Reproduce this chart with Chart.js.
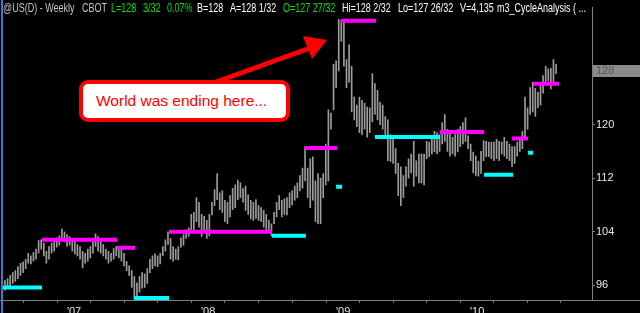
<!DOCTYPE html>
<html>
<head>
<meta charset="utf-8">
<script src="https://cdn.jsdelivr.net/npm/chart.js@4.4.1/dist/chart.umd.min.js"></script>
<style>
  html, body { margin: 0; padding: 0; background: #000; }
  #wrap { position: relative; width: 640px; height: 313px; overflow: hidden; background: #000; }
  #bondChart { position: absolute; left: 0; top: 0; }
  .hdr { position: absolute; top: 1px; font: 12px "Liberation Sans", Arial, sans-serif; line-height: 14px; white-space: nowrap; color: #fff;
         transform: scaleX(0.75); transform-origin: 0 0; }
  .gry { color: #c4c4c4; }
  .grn { color: #00e400; }
  #edge { position: absolute; left: 1px; top: 0; width: 2px; height: 313px; background: #3c78d8; }
  #note { position: absolute; left: 79px; top: 80px; width: 211px; height: 42px; box-sizing: border-box;
          border: 4px solid #ff0000; border-radius: 9px; background: #fff; color: #ff0000;
          font: 15.5px "Liberation Sans", Arial, sans-serif; line-height: 34px; padding-left: 13px; white-space: nowrap; }
</style>
</head>
<body>
<div id="wrap">
  <canvas id="bondChart" width="640" height="313"></canvas>
  <div id="edge"></div>
  <span class="hdr gry" style="left:3px">@US(D) - Weekly</span>
  <span class="hdr gry" style="left:82px">CBOT</span>
  <span class="hdr grn" style="left:111px">L=128</span>
  <span class="hdr grn" style="left:143px">3/32</span>
  <span class="hdr grn" style="left:167px">0.07%</span>
  <span class="hdr" style="left:197px">B=128</span>
  <span class="hdr" style="left:230px">A=128 1/32</span>
  <span class="hdr grn" style="left:283px">O=127 27/32</span>
  <span class="hdr" style="left:342px">Hi=128 2/32</span>
  <span class="hdr" style="left:398px">Lo=127 26/32</span>
  <span class="hdr" style="left:460px">V=4,135</span>
  <span class="hdr" style="left:497px">m3_CycleAnalysis ( ...</span>
  <div id="note">World was ending here...</div>
</div>
<script>
// weekly bars, index 0 = early July 2006
var highs = [
  96.7,97.0,97.5,97.9,98.2,98.8,99.3,99.5,99.9,100.8,
  100.4,100.9,101.4,102.7,102.8,102.3,101.1,101.8,102.3,102.5,
  103.1,103.4,104.4,104.0,103.6,103.3,102.8,102.5,102.1,101.8,
  101.1,100.8,101.4,101.8,102.5,103.7,103.3,102.5,102.1,101.4,
  101.1,100.8,101.5,101.8,101.5,101.4,100.8,99.6,98.9,98.2,
  97.3,96.4,97.3,97.9,97.7,98.5,99.9,100.4,100.7,100.4,
  100.8,101.8,102.8,104.0,103.0,101.8,101.4,101.8,103.1,103.6,
  104.3,104.6,106.6,106.9,109.1,108.4,106.6,106.3,105.7,106.6,
  108.4,110.3,112.7,109.8,110.1,108.7,108.4,109.4,110.5,111.0,
  111.7,111.3,110.5,110.8,109.5,108.7,108.4,108.8,107.9,107.6,
  107.2,106.6,105.7,105.2,106.9,108.4,109.4,108.7,108.9,109.1,
  109.8,110.1,110.8,111.3,112.4,113.5,116.7,113.5,114.9,115.2,
  111.6,112.7,112.0,112.7,117.1,122.2,121.7,129.0,129.5,135.7,
  135.6,135.3,129.7,131.9,128.7,124.1,122.9,124.1,123.6,123.2,
  122.6,122.5,127.6,126.1,125.1,123.3,122.9,121.2,120.7,118.5,
  118.3,116.4,114.2,113.7,112.4,113.7,114.9,115.6,117.5,114.6,
  115.6,115.6,115.6,117.5,117.4,118.1,119.0,118.8,118.5,120.3,
  121.5,119.3,118.8,118.1,118.5,119.3,119.7,120.3,121.0,118.3,
  117.1,115.9,115.3,114.5,116.0,117.6,117.5,117.4,117.4,117.4,
  117.8,117.5,117.4,118.1,117.5,117.1,116.7,116.7,117.4,117.8,
  119.0,124.1,122.5,125.5,126.3,125.4,124.8,125.8,127.3,128.7,
  128.3,128.4,129.7,129.0
];
var lows = [
  95.3,95.6,95.9,96.3,96.6,97.0,97.5,97.9,98.5,99.3,
  99.2,99.6,99.9,100.8,101.4,100.4,99.3,99.9,100.8,101.1,
  101.7,102.0,102.8,102.5,101.8,102.0,101.1,100.7,100.4,99.9,
  98.6,99.3,99.6,100.1,100.8,101.8,101.1,100.8,100.4,99.9,
  99.3,99.6,99.9,100.4,100.1,99.6,98.9,98.2,97.5,95.7,
  94.0,94.3,95.0,95.6,95.7,96.3,97.9,98.5,98.9,98.8,
  99.2,100.4,101.1,102.1,99.9,99.6,99.9,99.8,101.7,102.0,
  103.0,103.3,104.0,104.3,105.5,104.7,103.3,104.0,103.0,103.4,
  106.5,107.9,108.8,107.3,106.9,105.5,105.2,106.2,107.3,107.6,
  108.8,109.1,108.4,107.2,106.6,105.9,105.7,106.0,105.7,105.5,
  104.7,104.0,103.7,103.4,105.2,106.2,107.3,106.2,106.6,106.5,
  107.6,108.0,108.7,109.1,110.1,110.5,111.6,109.1,107.6,108.7,
  105.5,105.2,105.2,109.1,111.0,111.6,119.3,122.2,125.5,128.0,
  132.4,128.7,125.5,126.3,121.9,120.7,119.7,118.8,118.5,119.3,
  118.1,118.8,120.4,121.5,120.7,120.0,119.3,118.1,114.6,114.5,
  114.2,112.7,109.4,107.9,109.1,110.8,112.0,112.8,110.8,112.3,
  111.3,111.3,111.0,114.9,115.2,115.6,115.9,115.6,116.0,117.1,
  117.5,116.0,115.3,115.6,115.3,115.9,116.7,117.1,117.5,116.4,
  114.6,112.8,112.4,112.3,112.7,114.6,115.2,115.2,114.9,114.6,
  114.9,114.6,115.6,115.3,114.9,114.6,113.7,114.2,115.3,116.0,
  116.4,118.1,119.3,121.5,121.9,121.2,122.5,122.9,124.7,126.3,
  126.5,125.3,126.3,127.6
];
var lastClose = 128.09;

// cycle levels: start week, end week, price, kind
var levelFrom  = [-0.8, 14.3, 43.3, 49.9, 63.4, 103.2, 116.0, 128.0, 129.9, 143.0, 168.1, 185.2, 196.0, 202.2, 204.1];
var levelTo    = [14.3, 43.3, 50.3, 63.4, 103.2, 116.3, 128.3, 130.3, 143.4, 168.1, 185.2, 196.4, 202.2, 204.1, 214.1];
var levelPrice = [95.7, 102.8, 101.6, 94.1, 104.0, 103.4, 116.5, 110.7, 135.5, 118.15, 118.9, 112.5, 117.9, 115.8, 126.1];
var levelKind  = ['low','high','high','low','high','low','high','low','high','low','high','low','high','low','high'];

// axis ticks (week index)
var quarterTicks = [0.8, 13.7, 26.7, 39.6, 52.6, 65.5, 78.5, 91.5, 104.6, 117.6, 130.7, 143.6, 156.6, 169.5, 182.5, 195.5, 208.4, 221.4];
var yearTicks = [26.7, 78.5, 130.7, 182.5];
var yearLabels = ["'07", "'08", "'09", "'10"];
var priceTicks = [96, 104, 112, 120, 128];

var barData = [];
for (var i = 0; i < highs.length; i++) {
  barData.push({x: i, y: [lows[i], highs[i]]});
}

var datasets = [{
  type: 'bar',
  data: barData,
  backgroundColor: '#9c9c9c',
  barThickness: 1,
  order: 2
}];
for (var j = 0; j < levelPrice.length; j++) {
  datasets.push({
    type: 'line',
    data: [{x: levelFrom[j], y: levelPrice[j]}, {x: levelTo[j], y: levelPrice[j]}],
    borderColor: levelKind[j] == 'high' ? '#ff00ff' : '#00ffff',
    borderWidth: 4,
    borderCapStyle: 'butt',
    pointRadius: 0,
    order: 1
  });
}

var decor = {
  id: 'decor',
  afterDraw: function(chart) {
    var ctx = chart.ctx;
    var ys = chart.scales.y;
    ctx.save();
    // axis line continues under price panel
    ctx.strokeStyle = '#808080';
    ctx.lineWidth = 1;
    ctx.beginPath();
    ctx.moveTo(592, 300.5);
    ctx.lineTo(640, 300.5);
    ctx.stroke();
    // last price box
    var py = Math.round(ys.getPixelForValue(lastClose));
    ctx.fillStyle = '#8a8a8a';
    ctx.fillRect(593, py - 5, 47, 12);
    ctx.fillStyle = '#585858';
    ctx.font = '11px "Liberation Sans", Arial, sans-serif';
    ctx.textBaseline = 'middle';
    ctx.fillText('128', 596, py + 1);
    // arrow
    ctx.strokeStyle = '#ff0000';
    ctx.fillStyle = '#ff0000';
    ctx.lineWidth = 5;
    ctx.beginPath();
    ctx.moveTo(205, 86);
    ctx.lineTo(310, 48);
    ctx.stroke();
    ctx.beginPath();
    ctx.moveTo(327, 40);
    ctx.lineTo(303, 36);
    ctx.lineTo(312, 59);
    ctx.closePath();
    ctx.fill();
    ctx.restore();
  }
};

new Chart(document.getElementById('bondChart'), {
  type: 'bar',
  data: { datasets: datasets },
  options: {
    responsive: false,
    animation: false,
    devicePixelRatio: 1,
    layout: { padding: 0 },
    plugins: { legend: { display: false }, tooltip: { enabled: false } },
    scales: {
      x: {
        type: 'linear',
        offset: false,
        min: -1.93,
        max: 226.9,
        afterFit: function(s) { s.height = 13; },
        afterBuildTicks: function(s) { s.ticks = quarterTicks.map(function(v) { return {value: v}; }); },
        grid: { drawOnChartArea: false, drawTicks: true, tickLength: 3, color: '#808080' },
        border: { display: true, color: '#808080' },
        ticks: {
          autoSkip: false,
          maxRotation: 0,
          padding: 2,
          color: '#e6e6e6',
          font: { family: 'Liberation Sans', size: 11 },
          callback: function(v) {
            var k = yearTicks.indexOf(v);
            return k >= 0 ? yearLabels[k] : '';
          }
        }
      },
      y: {
        position: 'right',
        min: 93.82,
        max: 137.45,
        afterFit: function(s) { s.width = 48; },
        afterBuildTicks: function(s) { s.ticks = priceTicks.map(function(v) { return {value: v}; }); },
        grid: { drawOnChartArea: false, drawTicks: true, tickLength: 3, color: '#808080' },
        border: { display: true, color: '#808080' },
        ticks: {
          padding: 1,
          color: '#e6e6e6',
          font: { family: 'Liberation Sans', size: 11 }
        }
      }
    }
  },
  plugins: [decor]
});
</script>
</body>
</html>
